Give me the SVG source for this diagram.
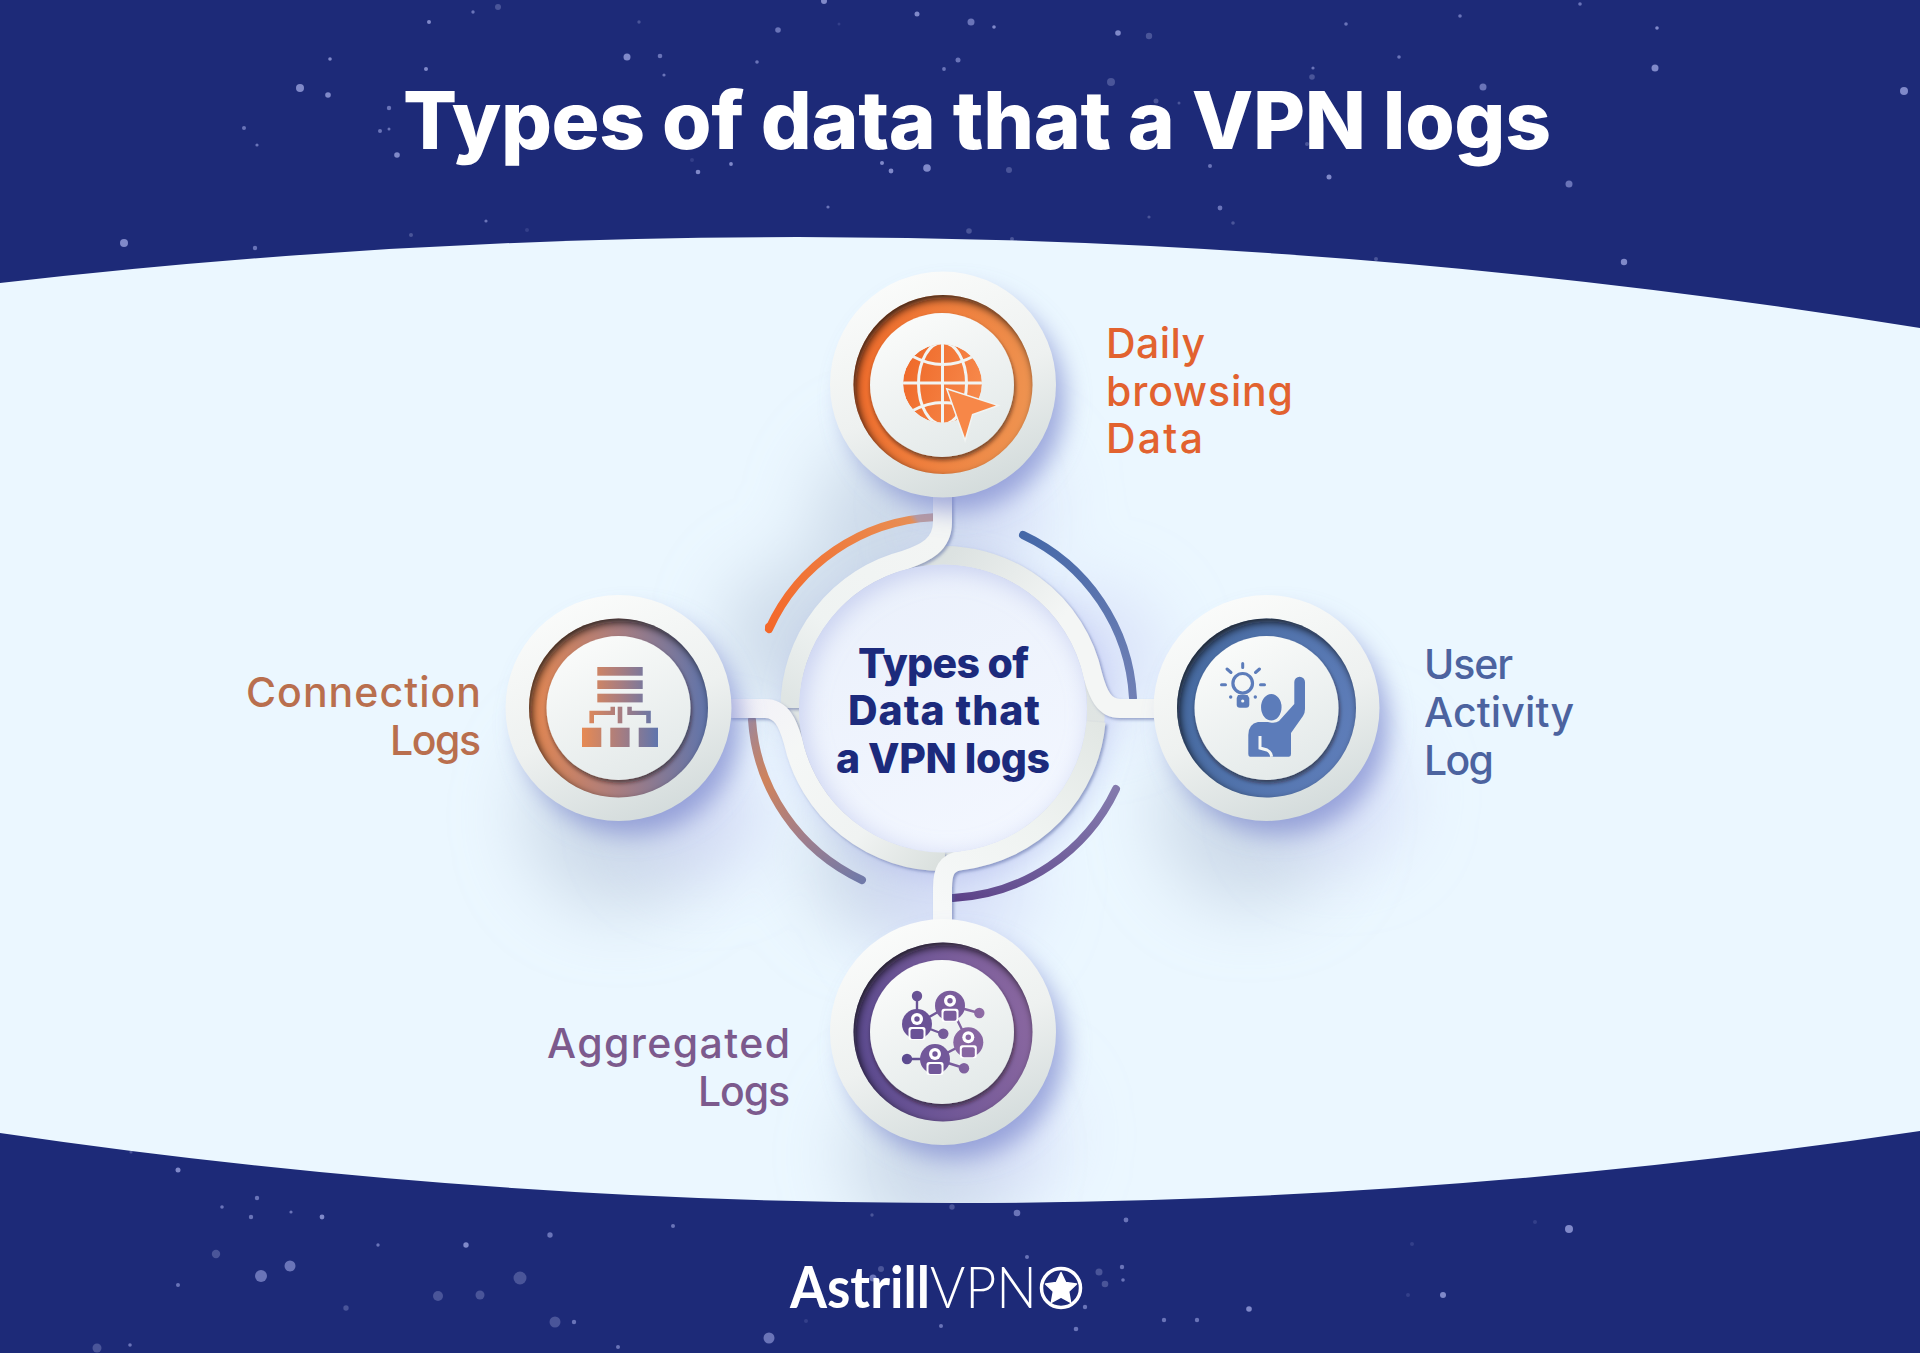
<svg xmlns="http://www.w3.org/2000/svg" width="1920" height="1353" viewBox="0 0 1920 1353">
<style>
.s1{fill:#8089c9}.s2{fill:#6a74b8}.s3{fill:#4a5599}.s4{fill:#333f8a}
text{font-family:"Inter","Liberation Sans",sans-serif}
.title{font-size:80px;font-weight:800;fill:#fff}
.lab{font-size:41px;font-weight:500}
.ctr{font-size:41px;font-weight:800;fill:#1c2a7c}
.conn{fill:none;stroke-width:19;filter:url(#connShadow)}
.arc{fill:none;stroke-width:8;stroke-linecap:round}
.lg{font-family:"Lato","Liberation Sans",sans-serif;font-size:57px;fill:#fff}
</style>
<defs>
<filter id="b4" x="-30%" y="-30%" width="160%" height="160%"><feGaussianBlur stdDeviation="4"/></filter>
<filter id="b12" x="-40%" y="-40%" width="180%" height="180%"><feGaussianBlur stdDeviation="12"/></filter>
<filter id="b35" x="-60%" y="-60%" width="220%" height="220%"><feGaussianBlur stdDeviation="35"/></filter>
<filter id="connShadow" x="-20%" y="-20%" width="140%" height="140%"><feDropShadow dx="2" dy="2" stdDeviation="1.800" flood-color="#4f5f9c" flood-opacity=".5"/></filter>
<filter id="faceShadow" x="-20%" y="-20%" width="140%" height="140%"><feDropShadow dx="1" dy="3" stdDeviation="2.200" flood-color="#1d1410" flood-opacity=".6"/></filter>
<linearGradient id="plateG" x1=".25" y1="0" x2=".65" y2="1"><stop offset="0" stop-color="#fbfcfb"/><stop offset=".55" stop-color="#eef1f0"/><stop offset="1" stop-color="#d3dbdb"/></linearGradient>
<linearGradient id="faceG" x1=".2" y1="0" x2=".7" y2="1"><stop offset="0" stop-color="#fbfcfb"/><stop offset="1" stop-color="#e3e9e9"/></linearGradient>
<linearGradient id="ringO" x1="0" y1=".3" x2="1" y2=".5"><stop offset="0" stop-color="#ef6a2a"/><stop offset="1" stop-color="#ee9350"/></linearGradient>
<linearGradient id="ringC" x1="0" y1=".5" x2="1" y2=".5"><stop offset="0" stop-color="#e5874f"/><stop offset=".5" stop-color="#a87d80"/><stop offset="1" stop-color="#5f74ab"/></linearGradient>
<linearGradient id="ringU" x1="0" y1=".3" x2="1" y2=".6"><stop offset="0" stop-color="#45699f"/><stop offset="1" stop-color="#5e7db9"/></linearGradient>
<linearGradient id="ringA" x1="0" y1=".6" x2="1" y2=".4"><stop offset="0" stop-color="#5b4a8f"/><stop offset="1" stop-color="#8a67a0"/></linearGradient>
<linearGradient id="icoO" gradientUnits="userSpaceOnUse" x1="903" y1="370" x2="995" y2="400"><stop offset="0" stop-color="#ef6a2a"/><stop offset="1" stop-color="#f88f52"/></linearGradient>
<linearGradient id="icoC" gradientUnits="userSpaceOnUse" x1="582" y1="700" x2="658" y2="700"><stop offset="0" stop-color="#e78a53"/><stop offset=".5" stop-color="#a87d80"/><stop offset="1" stop-color="#5f75ad"/></linearGradient>
<linearGradient id="icoA" gradientUnits="userSpaceOnUse" x1="902" y1="1040" x2="985" y2="1030"><stop offset="0" stop-color="#5b4a8f"/><stop offset="1" stop-color="#8f6ba5"/></linearGradient>
<linearGradient id="arcT" gradientUnits="userSpaceOnUse" x1="769" y1="627" x2="933" y2="517"><stop offset="0" stop-color="#f4682a"/><stop offset=".9" stop-color="#e98e52"/><stop offset=".93" stop-color="#b99a9f"/></linearGradient>
<linearGradient id="arcR" gradientUnits="userSpaceOnUse" x1="1023" y1="535" x2="1133" y2="698"><stop offset="0" stop-color="#4568a8"/><stop offset="1" stop-color="#7080b5"/></linearGradient>
<linearGradient id="arcB" gradientUnits="userSpaceOnUse" x1="1116" y1="789" x2="953" y2="898"><stop offset="0" stop-color="#8379ac"/><stop offset="1" stop-color="#5a3f86"/></linearGradient>
<linearGradient id="arcL" gradientUnits="userSpaceOnUse" x1="752" y1="720" x2="862" y2="880"><stop offset="0" stop-color="#a5868f"/><stop offset=".3" stop-color="#cf835c"/><stop offset=".65" stop-color="#a07e8c"/><stop offset="1" stop-color="#7079a8"/></linearGradient>
<linearGradient id="cT" gradientUnits="userSpaceOnUse" x1="905" y1="520" x2="790" y2="700"><stop offset="0" stop-color="#f3f5f4"/><stop offset=".6" stop-color="#eff3f2"/><stop offset="1" stop-color="#dfe5e4"/></linearGradient>
<linearGradient id="cL" gradientUnits="userSpaceOnUse" x1="735" y1="705" x2="935" y2="865"><stop offset="0" stop-color="#f2f1f8"/><stop offset=".3" stop-color="#f5f7f6"/><stop offset=".7" stop-color="#f0f3f2"/><stop offset="1" stop-color="#dbe1df"/></linearGradient>
<linearGradient id="cB" gradientUnits="userSpaceOnUse" x1="945" y1="910" x2="1095" y2="720"><stop offset="0" stop-color="#f6f8f8"/><stop offset=".5" stop-color="#eff3f1"/><stop offset="1" stop-color="#e2e7e4"/></linearGradient>
<linearGradient id="cR" gradientUnits="userSpaceOnUse" x1="1150" y1="710" x2="955" y2="550"><stop offset="0" stop-color="#f4f6f5"/><stop offset=".5" stop-color="#f4f6f5"/><stop offset="1" stop-color="#dce2e1"/></linearGradient>
<linearGradient id="ringBase" x1=".3" y1="0" x2=".7" y2="1"><stop offset="0" stop-color="#dfe4e3"/><stop offset="1" stop-color="#e0e5e3"/></linearGradient>
<linearGradient id="discG" x1=".2" y1="0" x2=".7" y2="1"><stop offset="0" stop-color="#eaf0fb"/><stop offset="1" stop-color="#f3f7ff"/></linearGradient>
<clipPath id="lightClip"><path d="M0,283Q960,172.500 1920,328V1131Q960,1274 0,1133Z"/></clipPath>
<clipPath id="ringClip"><circle r="89.500"/></clipPath>
<clipPath id="centerClip"><circle cx="943" cy="708.500" r="144"/></clipPath>
<clipPath id="globeClip"><circle cx="942.500" cy="383.500" r="39.500"/></clipPath>
<circle id="softShadow" cx="12" cy="16" r="110" fill="#7c88cf" fill-opacity=".7" filter="url(#b12)"/>
<circle id="plate" r="113" fill="url(#plateG)"/>
<g id="ringShade" clip-path="url(#ringClip)"><circle cx="3" cy="4" r="102" fill="none" stroke="#0d0a10" stroke-width="24" stroke-opacity=".85" filter="url(#b4)"/></g>
<circle id="face" r="72" fill="url(#faceG)" filter="url(#faceShadow)"/>
<g id="robot"><circle r="15"/><circle cy="-5" r="6" fill="#fff"/><circle cy="-5" r="2.700"/><rect x="-8.500" y="3" width="17" height="13" rx="2.500" fill="#fff"/><rect x="-6.500" y="5" width="13" height="10" rx="2"/></g>
</defs>

<g id="background">
<rect width="1920" height="1353" fill="#1d2a78"/>
<g id="stars">
<circle class="s1" cx="429" cy="22" r="2"/><circle class="s2" cx="473" cy="12" r="1.700"/><circle class="s3" cx="498" cy="7" r="3"/><circle class="s1" cx="627" cy="57" r="3.500"/><circle class="s1" cx="330" cy="59" r="1.800"/><circle class="s1" cx="426" cy="69" r="2"/><circle class="s1" cx="300" cy="88" r="4"/><circle class="s1" cx="328" cy="95" r="2.800"/><circle class="s2" cx="389" cy="108" r="2.200"/><circle class="s2" cx="244" cy="128" r="2"/><circle class="s2" cx="257" cy="145" r="1.600"/><circle class="s2" cx="380" cy="131" r="2"/><circle class="s2" cx="389" cy="129" r="1.500"/><circle class="s1" cx="397" cy="155" r="2.800"/><circle class="s1" cx="124" cy="243" r="4"/><circle class="s2" cx="255" cy="248" r="2.200"/><circle class="s2" cx="486" cy="221" r="1.600"/><circle class="s3" cx="411" cy="235" r="2"/><circle class="s4" cx="527" cy="230" r="2"/><circle class="s3" cx="639" cy="22" r="1.700"/>
<circle class="s1" cx="824" cy="1" r="3"/><circle class="s1" cx="917" cy="14" r="2.500"/><circle class="s2" cx="971" cy="22" r="3.500"/><circle class="s1" cx="994" cy="27" r="1.800"/><circle class="s1" cx="1118" cy="33" r="2.800"/><circle class="s3" cx="1149" cy="36" r="3.200"/><circle class="s2" cx="778" cy="30" r="2.800"/><circle class="s4" cx="839" cy="24" r="1.500"/><circle class="s2" cx="660" cy="56" r="2.300"/><circle class="s2" cx="664" cy="75" r="1.600"/><circle class="s2" cx="757" cy="62" r="1.800"/><circle class="s2" cx="958" cy="60" r="2.500"/><circle class="s2" cx="944" cy="69" r="1.900"/><circle class="s3" cx="1111" cy="82" r="4"/><circle class="s3" cx="1156" cy="101" r="2.500"/><circle class="s3" cx="1179" cy="103" r="1.500"/><circle class="s2" cx="1262" cy="123" r="2"/><circle class="s1" cx="731" cy="164" r="1.900"/><circle class="s1" cx="698" cy="172" r="2.300"/><circle class="s1" cx="882" cy="163" r="2"/><circle class="s1" cx="891" cy="171" r="2.400"/><circle class="s1" cx="927" cy="168" r="3.800"/><circle class="s3" cx="1009" cy="170" r="3"/><circle class="s2" cx="1210" cy="166" r="2"/><circle class="s2" cx="828" cy="207" r="1.600"/><circle class="s2" cx="1220" cy="208" r="2.400"/><circle class="s3" cx="1149" cy="217" r="1.600"/><circle class="s3" cx="1233" cy="223" r="1.800"/><circle class="s3" cx="969" cy="231" r="2.800"/><circle class="s3" cx="1012" cy="239" r="2"/><circle class="s3" cx="806" cy="148" r="2"/><circle class="s4" cx="692" cy="160" r="2"/>
<circle class="s2" cx="1580" cy="4" r="1.800"/><circle class="s2" cx="1460" cy="16" r="1.800"/><circle class="s2" cx="1346" cy="24" r="1.800"/><circle class="s1" cx="1657" cy="28" r="1.800"/><circle class="s2" cx="1399" cy="57" r="1.800"/><circle class="s2" cx="1313" cy="68" r="1.600"/><circle class="s3" cx="1312" cy="77" r="2.800"/><circle class="s1" cx="1655" cy="68" r="3.500"/><circle class="s2" cx="1483" cy="87" r="3.500"/><circle class="s1" cx="1904" cy="91" r="4"/><circle class="s3" cx="1307" cy="144" r="2"/><circle class="s1" cx="1329" cy="177" r="2.500"/><circle class="s2" cx="1569" cy="184" r="3.500"/><circle class="s1" cx="1624" cy="262" r="3.200"/><circle class="s3" cx="1376" cy="259" r="2"/>
<circle class="s1" cx="178" cy="1170" r="2.500"/><circle class="s3" cx="131" cy="1152" r="1.600"/><circle class="s2" cx="257" cy="1198" r="2.200"/><circle class="s2" cx="222" cy="1207" r="1.800"/><circle class="s2" cx="251" cy="1217" r="2.200"/><circle class="s2" cx="291" cy="1212" r="1.600"/><circle class="s1" cx="322" cy="1217" r="2.400"/><circle class="s2" cx="378" cy="1245" r="1.700"/><circle class="s1" cx="466" cy="1245" r="2.700"/><circle class="s2" cx="550" cy="1235" r="2.700"/><circle class="s3" cx="216" cy="1254" r="4.200"/><circle class="s2" cx="290" cy="1266" r="5.500"/><circle class="s2" cx="261" cy="1276" r="6"/><circle class="s2" cx="178" cy="1285" r="2"/><circle class="s3" cx="346" cy="1308" r="2.700"/><circle class="s3" cx="438" cy="1296" r="5"/><circle class="s3" cx="480" cy="1295" r="4.500"/><circle class="s3" cx="520" cy="1278" r="6.500"/><circle class="s3" cx="555" cy="1322" r="5.500"/><circle class="s2" cx="574" cy="1322" r="2.200"/><circle class="s2" cx="618" cy="1347" r="2"/><circle class="s3" cx="97" cy="1348" r="4.500"/><circle class="s2" cx="130" cy="1345" r="1.800"/>
<circle class="s2" cx="673" cy="1226" r="2"/><circle class="s3" cx="872" cy="1215" r="1.700"/><circle class="s3" cx="952" cy="1207" r="2.700"/><circle class="s2" cx="1017" cy="1213" r="3.300"/><circle class="s2" cx="1126" cy="1220" r="2.400"/><circle class="s2" cx="1027" cy="1257" r="2"/><circle class="s3" cx="1099" cy="1272" r="3.500"/><circle class="s2" cx="1122" cy="1267" r="2.200"/><circle class="s3" cx="1105" cy="1284" r="3.300"/><circle class="s2" cx="1123" cy="1280" r="1.800"/><circle class="s2" cx="1085" cy="1307" r="2.200"/><circle class="s1" cx="1249" cy="1309" r="2.800"/><circle class="s2" cx="1164" cy="1320" r="2.200"/><circle class="s2" cx="1197" cy="1320" r="2.200"/><circle class="s2" cx="1076" cy="1329" r="2.300"/><circle class="s2" cx="941" cy="1326" r="2"/><circle class="s2" cx="769" cy="1338" r="5.500"/><circle class="s4" cx="806" cy="1321" r="2"/><circle class="s3" cx="881" cy="1269" r="3"/><circle class="s2" cx="873" cy="1278" r="3.500"/>
<circle class="s1" cx="1569" cy="1229" r="4"/><circle class="s4" cx="1535" cy="1222" r="2"/><circle class="s4" cx="1412" cy="1244" r="2"/><circle class="s1" cx="1443" cy="1295" r="3"/><circle class="s4" cx="1408" cy="1295" r="2"/>
</g>
<path d="M0,283Q960,172.500 1920,328V1131Q960,1274 0,1133Z" fill="#ebf7ff"/>
<g id="glow" clip-path="url(#lightClip)">
<g fill="#b9c7da" fill-opacity=".6" filter="url(#b35)">
<circle cx="905" cy="525" r="90"/><circle cx="620" cy="815" r="95"/><circle cx="1250" cy="815" r="90"/><circle cx="930" cy="1155" r="80"/><circle cx="800" cy="640" r="75"/><circle cx="880" cy="860" r="70"/>
</g>
<g fill="#cdd2f5" fill-opacity=".6" filter="url(#b35)"><circle cx="990" cy="505" r="60"/><circle cx="700" cy="810" r="65"/><circle cx="1340" cy="795" r="65"/><circle cx="1000" cy="1135" r="60"/><circle cx="1090" cy="660" r="70"/><circle cx="950" cy="880" r="80"/></g>
</g>
</g>

<g id="title"><text class="title" x="403" y="149" textLength="1148" lengthAdjust="spacing">Types of data that a VPN logs</text></g>

<g id="connectors">
<path class="arc" stroke="url(#arcT)" stroke-linecap="butt" d="M933,517.200A191,191 0 0 0 769,629"/>
<circle cx="769" cy="627" r="4" fill="#f4682a"/>
<path class="arc" stroke="url(#arcR)" d="M1023,535A191,191 0 0 1 1133,698"/>
<path class="arc" stroke="url(#arcB)" d="M1116,789A191,191 0 0 1 953,898"/>
<path class="arc" stroke="url(#arcL)" d="M752,720A191,191 0 0 0 862,880"/>
<circle cx="943" cy="708.500" r="162" fill="#aab4ec" fill-opacity=".45" filter="url(#b12)" transform="translate(5 7)"/>
<circle cx="943" cy="708.500" r="153" fill="none" stroke="url(#ringBase)" stroke-width="18"/>
<path class="conn" stroke="url(#cR)" d="M1156,708.500H1120C1104,708.500 1098,694 1093,676A153,153 0 0 0 930,556"/>
<path class="conn" stroke="url(#cT)" d="M942.500,490V522C942.500,545 925,553 905,560A153,153 0 0 0 790,708"/>
<path class="conn" stroke="url(#cL)" d="M729,708.500H765C782,708.500 788,724 793,741A153,153 0 0 0 945,861.500"/>
<path class="conn" stroke="url(#cB)" d="M942.500,922V888C942.500,872 946,862 962,860.500A153,153 0 0 0 1096,722"/>
</g>

<g id="node-center">
<circle cx="943" cy="708.500" r="144" fill="url(#discG)"/>
<g clip-path="url(#centerClip)"><circle cx="948" cy="714" r="158" fill="none" stroke="#aab4e6" stroke-width="26" stroke-opacity=".6" filter="url(#b12)"/></g>
<text class="ctr" x="858" y="678" textLength="171" lengthAdjust="spacing">Types of</text>
<text class="ctr" x="848" y="725" textLength="192" lengthAdjust="spacing">Data that</text>
<text class="ctr" x="836" y="773" textLength="214" lengthAdjust="spacing">a VPN logs</text>
</g>

<g id="node-daily">
<use href="#softShadow" x="943" y="384.500"/>
<use href="#plate" x="943" y="384.500"/>
<circle cx="943" cy="384.500" r="89.500" fill="url(#ringO)"/>
<use href="#ringShade" x="943" y="384.500"/>
<use href="#face" x="942" y="385"/>
<g clip-path="url(#globeClip)">
<circle cx="942.500" cy="383.500" r="39.500" fill="url(#icoO)"/>
<g fill="none" stroke="#f1f4f3" stroke-width="3"><ellipse cx="942.500" cy="383.500" rx="24" ry="41"/><path d="M900,383H985M942.500,340V425M912,356Q943,373 974,356M912,411Q943,394 974,411"/></g>
</g>
<path d="M948,390L996,405.500L972,414L965,438Z" fill="#f78748" stroke="#f1f4f3" stroke-width="3" paint-order="stroke"/>
<text class="lab" fill="#e2622f" x="1106" y="358" textLength="99" lengthAdjust="spacing">Daily</text>
<text class="lab" fill="#e2622f" x="1106" y="406" textLength="187" lengthAdjust="spacing">browsing</text>
<text class="lab" fill="#e2622f" x="1106" y="453" textLength="97" lengthAdjust="spacing">Data</text>
</g>

<g id="node-connection">
<use href="#softShadow" x="618.500" y="708"/>
<use href="#plate" x="618.500" y="708"/>
<circle cx="618.500" cy="708" r="89.500" fill="url(#ringC)"/>
<use href="#ringShade" x="618.500" y="708"/>
<use href="#face" x="618.500" y="708"/>
<g fill="url(#icoC)">
<rect x="597.300" y="667" width="45.400" height="8.700"/><rect x="597.300" y="680.300" width="45.400" height="8.700"/><rect x="597.300" y="693.700" width="45.400" height="8.700"/>
<rect x="582" y="727.700" width="19.300" height="19.300"/><rect x="610.300" y="727.700" width="19.300" height="19.300"/><rect x="638.700" y="727.700" width="19.300" height="19.300"/>
<rect x="617.700" y="706.700" width="4.600" height="16.600"/>
<path d="M610.500,706.700H615V715H594V723.300H589.400V710.700H610.500Z"/><path d="M627.300,706.700H631.800V710.700H650.800V723.300H646.200V715H627.300Z"/>
</g>
<text class="lab" fill="#b96f4e" x="246" y="707" textLength="235" lengthAdjust="spacing">Connection</text>
<text class="lab" fill="#b96f4e" x="390" y="755" textLength="91" lengthAdjust="spacing">Logs</text>
</g>

<g id="node-user">
<use href="#softShadow" x="1266.500" y="708"/>
<use href="#plate" x="1266.500" y="708"/>
<circle cx="1266.500" cy="708" r="89.500" fill="url(#ringU)"/>
<use href="#ringShade" x="1266.500" y="708"/>
<use href="#face" x="1266.500" y="708"/>
<g fill="#5c7cba">
<circle cx="1242.700" cy="683.300" r="9.800" fill="none" stroke="#5c7cba" stroke-width="3.200"/>
<path d="M1238,695H1247.500L1249.300,698V704.500Q1249.300,707.700 1246,707.700H1240Q1236.700,707.700 1236.700,704.500V698Z"/>
<circle cx="1242.700" cy="701" r="1.600" fill="#f3f6f5"/>
<g fill="none" stroke="#5c7cba" stroke-width="3" stroke-linecap="round"><path d="M1242.700,663.500V667.500M1227,669L1231,672.500M1259.500,669L1255.500,672.500M1221.500,684.700H1225.500M1260.500,684.700H1264.500"/></g>
<circle cx="1230.700" cy="697" r="1.700"/><circle cx="1255.300" cy="697" r="1.700"/>
<path d="M1250,756.700H1289Q1291,756.700 1291,754V733L1303,716Q1305,713 1305,709V682A5.350,5.350 0 0 0 1294.300,682V704L1279,721Q1275,724 1268,722L1258,722Q1248.300,724 1248.300,735V754Q1248.300,756.700 1250,756.700Z"/>
<path d="M1260,736V748L1267,750Q1271,752 1271.700,756.700" fill="none" stroke="#f3f6f5" stroke-width="3"/>
<ellipse cx="1271.300" cy="707.300" rx="11" ry="14" stroke="#f0f3f3" stroke-width="1.500"/>
</g>
<text class="lab" fill="#4c639f" x="1424" y="679" textLength="89" lengthAdjust="spacing">User</text>
<text class="lab" fill="#4c639f" x="1424" y="727" textLength="150" lengthAdjust="spacing">Activity</text>
<text class="lab" fill="#4c639f" x="1424" y="775" textLength="70" lengthAdjust="spacing">Log</text>
</g>

<g id="node-aggregated">
<use href="#softShadow" x="943" y="1032"/>
<use href="#plate" x="943" y="1032"/>
<circle cx="943" cy="1032" r="89.500" fill="url(#ringA)"/>
<use href="#ringShade" x="943" y="1032"/>
<use href="#face" x="942" y="1032"/>
<path d="M917,996V1024L950,1005L979,1013M917,1024L943,1034M950,1005L968,1042L935,1059H907M935,1059L964,1068" fill="none" stroke="url(#icoA)" stroke-width="2.400"/>
<g fill="url(#icoA)">
<circle cx="917" cy="996" r="5.200"/><circle cx="943.300" cy="1033.700" r="5.200"/><circle cx="979.300" cy="1013" r="5.200"/><circle cx="907" cy="1059" r="5.200"/><circle cx="964" cy="1068.300" r="5.200"/>
</g>
<use href="#robot" x="917" y="1024" fill="#6a5296"/>
<use href="#robot" x="950" y="1005.700" fill="#7a5c9c"/>
<use href="#robot" x="968.300" y="1042.300" fill="#8866a2"/>
<use href="#robot" x="935" y="1059" fill="#72589a"/>
<text class="lab" fill="#7c5a8d" x="547" y="1058" textLength="243" lengthAdjust="spacing">Aggregated</text>
<text class="lab" fill="#7c5a8d" x="698" y="1106" textLength="92" lengthAdjust="spacing">Logs</text>
</g>

<g id="logo">
<text class="lg" x="790" y="1308" font-weight="700" textLength="140" lengthAdjust="spacingAndGlyphs">Astrill</text>
<text class="lg" x="930" y="1308" font-weight="300" textLength="107" lengthAdjust="spacingAndGlyphs">VPN</text>
<circle cx="1061" cy="1288" r="19.500" fill="none" stroke="#fff" stroke-width="3.500"/>
<path d="M1061,1272.500L1065.700,1282.500L1076.500,1284L1068.600,1291.500L1070.600,1302.300L1061,1297L1051.400,1302.300L1053.400,1291.500L1045.500,1284L1056.300,1282.500Z" fill="#fff" stroke="#fff" stroke-width="1.500" stroke-linejoin="round"/>
</g>
</svg>
